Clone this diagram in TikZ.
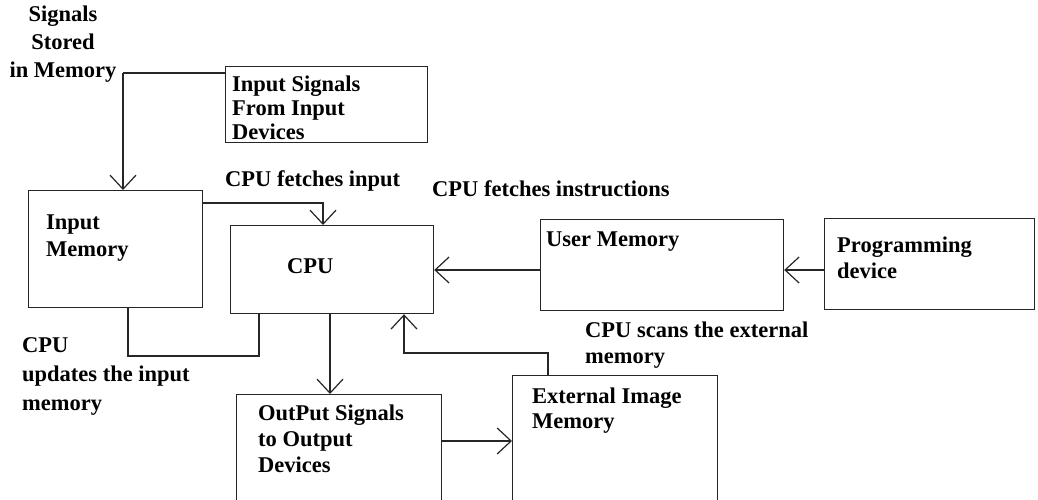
\documentclass[tikz,border=0pt]{standalone}
\usepackage{fontspec}
\setmainfont{Liberation Serif}
\usetikzlibrary{arrows.meta,calc}
\begin{document}
\begin{tikzpicture}[x=1pt,y=-1pt,
  box/.style={draw=black!85, line width=1.2pt, inner sep=0pt, anchor=north west},
  txt/.style={font=\fontsize{22.5}{26}\selectfont\bfseries, align=left, inner sep=0pt, anchor=north west},
  conn/.style={draw=black!85, line width=1.2pt},
  arr/.style={conn, -{Straight Barb[length=14pt,width=26pt]}}]
\fill[white] (0,0) rectangle (1038,500);
\useasboundingbox (0,0) rectangle (1038,500);

% boxes
\node[box, minimum width=202pt, minimum height=76pt]  (insig) at (225,66) {};
\node[box, minimum width=174pt, minimum height=117pt] (inmem) at (28,190) {};
\node[box, minimum width=203pt, minimum height=88pt]  (cpu)   at (230,225) {};
\node[box, minimum width=243pt, minimum height=91pt]  (user)  at (540,219) {};
\node[box, minimum width=210pt, minimum height=91pt]  (prog)  at (824,218) {};
\node[box, minimum width=205pt, minimum height=140pt] (ext)   at (512,375) {};
\node[box, minimum width=205pt, minimum height=140pt] (out)   at (236,394) {};

% texts
\node[txt, align=center, anchor=north, font=\fontsize{22.5}{28}\selectfont\bfseries] (sig) at (63,6) {Signals\\Stored\\in Memory};
\node[txt, font=\fontsize{22.5}{24}\selectfont\bfseries] (insigT) at (232,76) {Input Signals\\From Input\\Devices};
\node[txt] (fetchin) at (225,170) {CPU fetches input};
\node[txt] (fetchins) at (432,180) {CPU fetches instructions};
\node[txt, font=\fontsize{22.5}{27}\selectfont\bfseries] (inmemT) at (46,215) {Input\\Memory};
\node[txt] (cpuT) at (287,258) {CPU};
\node[txt] (userT) at (546,232) {User Memory};
\node[txt] (progT) at (837,237) {Programming\\device};
\node[txt] (scansT) at (585,322) {CPU scans the external\\memory};
\node[txt, font=\fontsize{22.5}{29}\selectfont\bfseries] (updT) at (22,337) {CPU\\updates the input\\memory};
\node[txt, font=\fontsize{22.5}{25}\selectfont\bfseries] (extT) at (532,388) {External Image\\Memory};
\node[txt] (outT) at (258,405) {OutPut Signals\\to Output\\Devices};

% connectors
\coordinate (j) at (123,73);
\draw[conn] (insig.west |- j) -- (j);
\draw[arr] (j) -- (inmem.north -| j);

\coordinate (k) at (323,203);
\draw[arr] (inmem.east |- k) -- (k) -- (cpu.north -| k);

\coordinate (m) at (0,270);
\draw[arr] (user.west |- m) -- (cpu.east |- m);
\draw[arr] (prog.west |- m) -- (user.east |- m);

\coordinate (l1) at (128,356);
\coordinate (l2) at (259,356);
\draw[conn] (inmem.south -| l1) -- (l1) -- (l2) -- (cpu.south -| l2);

\coordinate (o) at (330,0);
\draw[arr] (cpu.south -| o) -- (out.north -| o);

\coordinate (e1) at (548,353);
\coordinate (e2) at (404,353);
\draw[arr] (ext.north -| e1) -- (e1) -- (e2) -- (cpu.south -| e2);

\coordinate (h) at (0,441);
\draw[arr] (out.east |- h) -- (ext.west |- h);
\end{tikzpicture}
\end{document}
